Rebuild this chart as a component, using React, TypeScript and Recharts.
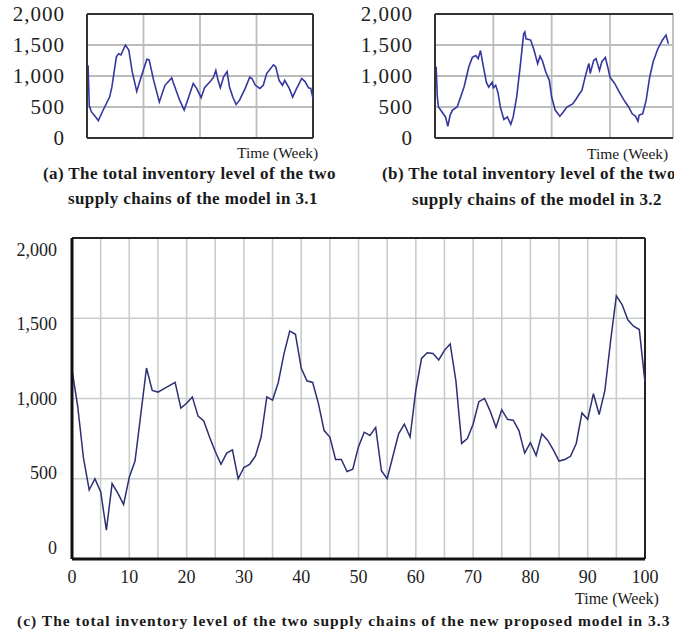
import { CartesianGrid, Line, LineChart, ReferenceLine, XAxis, YAxis } from "recharts";

const SERIF = '"Liberation Serif", "Times New Roman", serif';

// (a) model in 3.1 — weeks
const WEEKS_A = [
  0, 0.5, 1, 2, 4, 5, 7, 10, 11, 13, 14, 15, 17, 18.5, 20, 22, 23.5, 26.5, 27.5, 29.5, 32, 34.5, 37.5,
  38, 41, 43, 45, 47, 48.5, 50.5, 52, 54.5, 56, 57, 58, 59, 60.5, 62, 63, 64.5, 66, 67.5, 70, 72, 73,
  74.5, 76.5, 78, 79.5, 82.5, 83.5, 85, 86.5, 87.5, 89.5, 91, 92.5, 95, 96.5, 98, 99, 100,
];
const INVENTORY_A = [
  1130, 1150, 520, 420, 330, 280, 440, 660, 820, 1310, 1360, 1340, 1500, 1420, 1070, 750, 930, 1270,
  1260, 930, 580, 850, 970, 910, 610, 450, 660, 880, 800, 650, 810, 910, 980, 1090, 930, 810, 990, 1070,
  830, 660, 540, 610, 800, 980, 960, 850, 800, 850, 1040, 1180, 1150, 930, 850, 930, 800, 660, 780, 960,
  910, 810, 800, 640,
];

// (b) model in 3.2
const WEEKS_B = [
  0, 0.5, 1, 1.5, 3, 4.5, 5.5, 6.5, 7.5, 9.5, 11, 12.5, 14.5, 16, 17.5, 18.5, 19.5, 20.5, 22, 23, 24.5,
  25, 26, 27, 28, 29.5, 31, 32.5, 33.5, 35, 36.5, 38, 38.5, 39, 41, 42.5, 44, 45, 46, 47.5, 49, 50, 51.5,
  53.5, 55, 56.5, 59, 60.5, 61.5, 63, 64, 65.5, 66, 66.5, 68, 69, 70.5, 71.5, 73, 74, 75, 77, 79, 81, 83,
  84.5, 86, 87, 87.5, 89, 90.5, 92, 93.5, 95.5, 97.5, 99, 100,
];
const INVENTORY_B = [
  1100, 1150, 660, 500, 420, 340, 190, 370, 450, 500, 660, 830, 1150, 1300, 1330, 1280, 1410, 1200, 900,
  820, 900, 810, 850, 730, 500, 300, 340, 220, 340, 660, 1150, 1680, 1710, 1600, 1580, 1410, 1200, 1320,
  1250, 1060, 930, 660, 450, 350, 420, 500, 550, 630, 690, 770, 930, 1150, 1200, 1040, 1250, 1280, 1090,
  1230, 1300, 1150, 980, 880, 740, 610, 500, 390, 350, 270, 370, 390, 610, 980, 1230, 1440, 1580, 1660,
  1520,
];

// (c) new proposed model in 3.3, one reading per week (week = index)
const INVENTORY_C = [
  1180, 950, 630, 430, 500, 420, 180, 470, 410, 340, 510, 610, 900, 1190, 1050, 1040, 1060, 1080, 1100,
  940, 970, 1010, 890, 860, 760, 670, 590, 660, 680, 500, 570, 590, 640, 760, 1010, 990, 1100, 1280,
  1420, 1400, 1190, 1110, 1100, 970, 800, 760, 620, 620, 545, 560, 700, 790, 770, 820, 550, 500, 640,
  780, 840, 760, 1050, 1250, 1285, 1280, 1240, 1300, 1340, 1110, 720, 750, 840, 980, 1000, 920, 820,
  930, 870, 865, 800, 660, 725, 645, 780, 740, 680, 610, 620, 640, 720, 910, 870, 1030, 900, 1050, 1360,
  1640, 1585, 1490, 1450, 1430, 1100,
];

const Y_TICKS = [0, 500, 1000, 1500, 2000];
const X_TICKS_A = [0, 25, 50, 75, 100];
const X_TICKS_B = [0, 25, 50, 75];
const X_TICKS_C = [0, 5, 10, 15, 20, 25, 30, 35, 40, 45, 50, 55, 60, 65, 70, 75, 80, 85, 90, 95, 100];

const fmt = (v: number) => v.toLocaleString("en-US");

function rows(weeks: number[], values: number[]) {
  return weeks.map((week, i) => ({ week, inventory: values[i] }));
}

interface PanelProps {
  data: { week: number; inventory: number }[];
  left: number;
  width: number;
  axisWidth: number;
  marginRight: number;
  xMax: number;
  xTicks: number[];
  rightBorder: boolean;
}

function SmallPanel({ data, left, width, axisWidth, marginRight, xMax, xTicks, rightBorder }: PanelProps) {
  return (
    <div style={{ position: "absolute", left, top: 0 }}>
      <LineChart width={width} height={150} data={data} margin={{ top: 14, right: marginRight, bottom: 0, left: 0 }}>
        <CartesianGrid stroke="#bcbcbc" strokeWidth={1.8} />
        <XAxis
          dataKey="week"
          type="number"
          domain={[0, xMax]}
          ticks={xTicks}
          interval={0}
          tickFormatter={() => ""}
          tickLine={false}
          tickSize={0}
          height={12}
          axisLine={{ stroke: "#333", strokeWidth: 2 }}
        />
        <YAxis
          domain={[0, 2000]}
          ticks={Y_TICKS}
          interval={0}
          tickFormatter={fmt}
          width={axisWidth}
          tickLine={false}
          tickSize={0}
          tickMargin={22}
          axisLine={{ stroke: "#333", strokeWidth: 2 }}
          tick={{ fill: "#222", fontSize: 21, fontFamily: SERIF, letterSpacing: 1 }}
        />
        <ReferenceLine y={2000} stroke="#333" strokeWidth={2} />
        {rightBorder && <ReferenceLine x={xMax} stroke="#333" strokeWidth={2} />}
        <Line
          type="linear"
          dataKey="inventory"
          stroke="#34379e"
          strokeWidth={1.6}
          dot={false}
          isAnimationActive={false}
        />
      </LineChart>
    </div>
  );
}

// the source's y labels sit on a slightly squeezed scale next to the grid
function BigYTick({ x, y, payload }: any) {
  const shift = (payload.value - 1000) * 0.0115;
  return (
    <text x={x} y={y + shift} dy="0.35em" textAnchor="end" fill="#222" fontSize={18} fontFamily={SERIF}>
      {fmt(payload.value)}
    </text>
  );
}

const caption = {
  position: "absolute" as const,
  whiteSpace: "nowrap" as const,
  fontFamily: SERIF,
  fontWeight: 700,
  fontSize: 17,
  lineHeight: "17px",
  color: "#1a1a1a",
  letterSpacing: 0.4,
};

const axisTitle = {
  position: "absolute" as const,
  whiteSpace: "nowrap" as const,
  fontFamily: SERIF,
  fontSize: 15.5,
  lineHeight: "15.5px",
  color: "#1a1a1a",
};

export default function App() {
  const dataC = INVENTORY_C.map((inventory, week) => ({ week, inventory }));

  return (
    <div
      style={{
        position: "absolute",
        left: 0,
        top: 0,
        width: 674,
        height: 631,
        overflow: "hidden",
        background: "#fff",
      }}
    >
      <SmallPanel
        data={rows(WEEKS_A, INVENTORY_A)}
        left={0}
        width={330}
        axisWidth={87}
        marginRight={17}
        xMax={100}
        xTicks={X_TICKS_A}
        rightBorder
      />
      <SmallPanel
        data={rows(WEEKS_B, INVENTORY_B)}
        left={340}
        width={334}
        axisWidth={95}
        marginRight={1}
        xMax={102}
        xTicks={X_TICKS_B}
        rightBorder={false}
      />

      <div style={{ ...axisTitle, left: 237, top: 145 }}>Time (Week)</div>
      <div style={{ ...axisTitle, left: 587, top: 146 }}>Time (Week)</div>

      <div style={{ ...caption, left: 43, top: 165 }}>(a) The total inventory level of the two</div>
      <div style={{ ...caption, left: 68, top: 190 }}>supply chains of the model in 3.1</div>
      <div style={{ ...caption, left: 382, top: 165 }}>(b) The total inventory level of the two</div>
      <div style={{ ...caption, left: 412, top: 191 }}>supply chains of the model in 3.2</div>

      <div style={{ position: "absolute", left: 0, top: 230 }}>
        <LineChart width={674} height={370} data={dataC} margin={{ top: 8, right: 29, bottom: 11, left: 0 }}>
          <CartesianGrid stroke="#c9cdc9" strokeWidth={1.6} />
          <XAxis
            dataKey="week"
            type="number"
            domain={[0, 100]}
            ticks={X_TICKS_C}
            interval={0}
            tickFormatter={(v: number) => (v % 10 === 0 ? String(v) : "")}
            height={30}
            tickLine={false}
            tickSize={0}
            tickMargin={11}
            axisLine={{ stroke: "#111", strokeWidth: 3 }}
            tick={{ fill: "#222", fontSize: 18, fontFamily: SERIF }}
          />
          <YAxis
            domain={[0, 2000]}
            ticks={Y_TICKS}
            interval={0}
            width={72}
            tickLine={false}
            tickSize={0}
            tickMargin={15}
            axisLine={{ stroke: "#111", strokeWidth: 3 }}
            tick={BigYTick}
          />
          <ReferenceLine y={2000} stroke="#222" strokeWidth={2} />
          <ReferenceLine x={100} stroke="#222" strokeWidth={2} />
          <Line
            type="linear"
            dataKey="inventory"
            stroke="#2c2f72"
            strokeWidth={1.5}
            dot={false}
            isAnimationActive={false}
          />
        </LineChart>
      </div>

      <div style={{ ...axisTitle, fontSize: 16, lineHeight: "16px", left: 575, top: 591 }}>Time (Week)</div>
      <div style={{ ...caption, fontSize: 15.5, lineHeight: "15.5px", letterSpacing: 1, left: 17, top: 613 }}>
        (c) The total inventory level of the two supply chains of the new proposed model in 3.3
      </div>
    </div>
  );
}
